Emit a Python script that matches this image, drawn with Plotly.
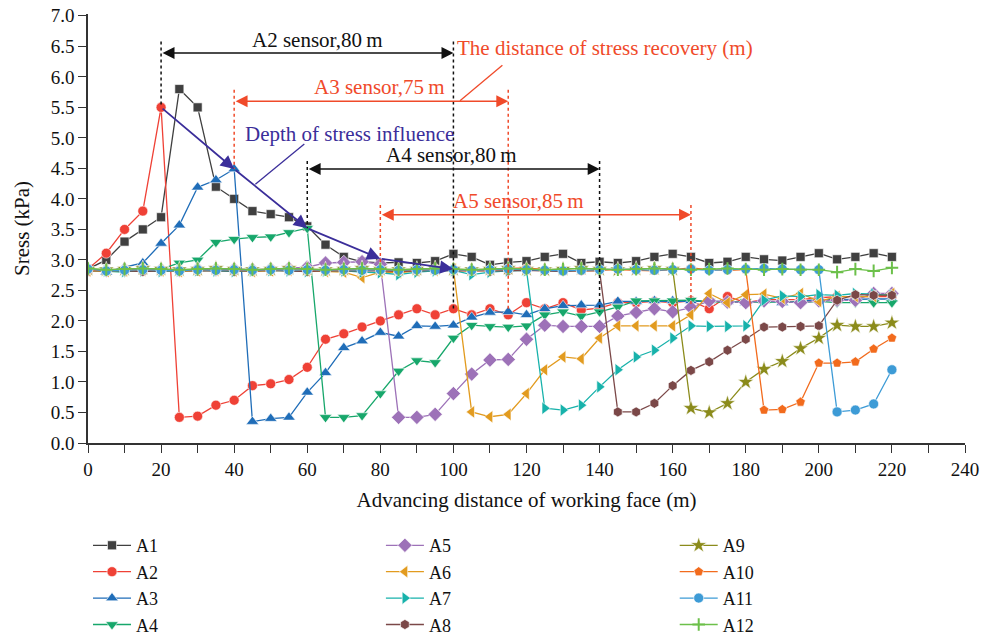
import plotly.graph_objects as go

# ---------------- data ----------------
distance = [0, 5, 10, 15, 20, 25, 30, 35, 40, 45, 50, 55, 60, 65, 70, 75, 80, 85, 90, 95,
            100, 105, 110, 115, 120, 125, 130, 135, 140, 145, 150, 155, 160, 165, 170, 175,
            180, 185, 190, 195, 200, 205, 210, 215, 220]

A1 = [2.85, 3.0, 3.3, 3.5, 3.7, 5.8, 5.5, 4.2, 4.0, 3.8, 3.75, 3.7, 3.55, 3.25, 3.05,
      2.97, 2.95, 2.96, 2.95, 2.98, 3.1, 3.05, 2.92, 2.96, 2.98, 3.05, 3.1, 2.95, 2.97,
      2.95, 2.98, 3.05, 3.1, 3.05, 2.95, 2.97, 3.05, 3.01, 2.99, 3.05, 3.11, 3.01, 3.05,
      3.11, 3.05]
A2 = [2.85, 3.11, 3.5, 3.8, 5.5, 0.42, 0.44, 0.62, 0.7, 0.94, 0.97, 1.04, 1.24, 1.7, 1.79,
      1.9, 2.0, 2.1, 2.2, 2.1, 2.2, 2.1, 2.2, 2.1, 2.3, 2.2, 2.3, 2.18, 2.21, 2.3, 2.3,
      2.32, 2.3, 2.33, 2.2, 2.4, 2.3, 2.35, 2.35, 2.35, 2.38, 2.4, 2.4, 2.4, 2.4]
A3 = [2.87, 2.8, 2.88, 2.95, 3.27, 3.57, 4.19, 4.31, 4.49, 0.35, 0.4, 0.42, 0.83, 1.15,
      1.56, 1.67, 1.81, 1.75, 1.92, 1.91, 1.93, 2.06, 2.14, 2.15, 2.1, 2.2, 2.25, 2.26,
      2.26, 2.32, 2.32, 2.33, 2.33, 2.33, 2.33, 2.32, 2.3, 2.33, 2.3, 2.33, 2.35, 2.35,
      2.36, 2.36, 2.36]
A4 = [2.83, 2.82, 2.8, 2.85, 2.85, 2.95, 3.0, 3.29, 3.34, 3.37, 3.38, 3.45, 3.52, 0.42,
      0.42, 0.45, 0.81, 1.18, 1.35, 1.32, 1.72, 1.93, 1.91, 1.9, 1.92, 2.1, 2.15, 2.08,
      2.15, 2.23, 2.33, 2.33, 2.33, 2.34, 2.32, 2.3, 2.32, 2.3, 2.32, 2.3, 2.32, 2.3, 2.3,
      2.3, 2.3]
A5 = [2.84, 2.83, 2.84, 2.85, 2.84, 2.83, 2.85, 2.84, 2.85, 2.84, 2.85, 2.86, 2.88, 2.95,
      2.96, 2.97, 2.93, 0.42, 0.42, 0.47, 0.81, 1.13, 1.36, 1.37, 1.7, 1.93, 1.91, 1.91,
      1.91, 2.08, 2.14, 2.2, 2.15, 2.22, 2.33, 2.31, 2.3, 2.33, 2.32, 2.3, 2.33, 2.34,
      2.34, 2.45, 2.45]
A6 = [2.82, 2.81, 2.82, 2.83, 2.82, 2.81, 2.82, 2.83, 2.82, 2.81, 2.82, 2.83, 2.82, 2.81,
      2.8, 2.71, 2.8, 2.79, 2.82, 2.83, 2.85, 0.51, 0.43, 0.47, 0.81, 1.2, 1.41, 1.38,
      1.72, 1.92, 1.92, 1.92, 1.92, 2.1, 2.45, 2.3, 2.43, 2.44, 2.37, 2.45, 2.32, 2.4,
      2.4, 2.4, 2.45]
A7 = [2.83, 2.82, 2.81, 2.82, 2.81, 2.82, 2.83, 2.82, 2.81, 2.82, 2.83, 2.82, 2.81, 2.82,
      2.82, 2.8, 2.79, 2.76, 2.8, 2.82, 2.83, 2.76, 2.8, 2.82, 2.83, 0.57, 0.54, 0.62,
      0.92, 1.2, 1.41, 1.52, 1.72, 1.92, 1.91, 1.91, 1.92, 2.34, 2.41, 2.4, 2.43, 2.42,
      2.45, 2.44, 2.42]
A8 = [2.82, 2.83, 2.82, 2.81, 2.82, 2.83, 2.82, 2.82, 2.81, 2.82, 2.83, 2.82, 2.81, 2.82,
      2.82, 2.83, 2.82, 2.81, 2.82, 2.83, 2.82, 2.82, 2.81, 2.82, 2.83, 2.82, 2.81, 2.82,
      2.82, 0.51, 0.51, 0.65, 0.94, 1.19, 1.33, 1.52, 1.7, 1.9, 1.9, 1.91, 1.92, 2.34,
      2.43, 2.42, 2.42]
A9 = [2.85, 2.84, 2.85, 2.86, 2.85, 2.84, 2.85, 2.86, 2.85, 2.84, 2.85, 2.86, 2.85, 2.84,
      2.85, 2.86, 2.85, 2.84, 2.85, 2.86, 2.85, 2.84, 2.85, 2.86, 2.85, 2.84, 2.85, 2.86,
      2.85, 2.84, 2.85, 2.86, 2.85, 0.57, 0.5, 0.65, 1.0, 1.21, 1.34, 1.55, 1.72, 1.93,
      1.91, 1.91, 1.97]
A10 = [2.83, 2.82, 2.83, 2.84, 2.83, 2.82, 2.83, 2.84, 2.83, 2.82, 2.83, 2.84, 2.83, 2.82,
       2.83, 2.84, 2.83, 2.82, 2.83, 2.84, 2.83, 2.82, 2.83, 2.86, 2.87, 2.84, 2.83, 2.82,
       2.83, 2.84, 2.83, 2.82, 2.84, 2.87, 2.84, 2.83, 2.84, 0.54, 0.55, 0.67, 1.31, 1.31,
       1.33, 1.54, 1.72]
A11 = [2.85, 2.82, 2.83, 2.84, 2.83, 2.82, 2.84, 2.83, 2.84, 2.83, 2.84, 2.83, 2.84, 2.83,
       2.84, 2.83, 2.84, 2.83, 2.84, 2.83, 2.84, 2.83, 2.84, 2.85, 2.84, 2.83, 2.82, 2.83,
       2.84, 2.85, 2.84, 2.83, 2.84, 2.85, 2.83, 2.84, 2.85, 2.86, 2.85, 2.84, 2.84, 0.51,
       0.54, 0.64, 1.2]
A12 = [2.86, 2.84, 2.85, 2.86, 2.85, 2.84, 2.85, 2.86, 2.85, 2.84, 2.85, 2.86, 2.85, 2.84,
       2.85, 2.86, 2.85, 2.84, 2.85, 2.86, 2.85, 2.84, 2.85, 2.86, 2.85, 2.84, 2.85, 2.86,
       2.85, 2.84, 2.85, 2.86, 2.85, 2.84, 2.85, 2.86, 2.85, 2.84, 2.85, 2.84, 2.84, 2.8,
       2.85, 2.82, 2.87]

series_names = ["A1", "A2", "A3", "A4", "A5", "A6", "A7", "A8", "A9", "A10", "A11", "A12"]
series_values = [A1, A2, A3, A4, A5, A6, A7, A8, A9, A10, A11, A12]

x_tick_values = [0, 20, 40, 60, 80, 100, 120, 140, 160, 180, 200, 220, 240]
y_tick_values = [0.0, 0.5, 1.0, 1.5, 2.0, 2.5, 3.0, 3.5, 4.0, 4.5, 5.0, 5.5, 6.0, 6.5, 7.0]

# ---------------- styles ----------------
colors = ["#404040", "#ef4136", "#1f6db8", "#17a76b", "#9d72b8", "#e29b1f",
          "#17b2ab", "#7b4848", "#8b8b1b", "#f26b1d", "#3d9bd6", "#6cc04a"]
symbols = ["square", "circle", "triangle-up", "triangle-down", "diamond", "triangle-left",
           "triangle-right", "hexagon", "star", "pentagon", "circle", "cross-thin"]
sizes = [9, 10, 11, 11, 11, 11, 11, 10, 12, 10, 10, 9]
legend_ids = ["legend"] * 4 + ["legend2"] * 4 + ["legend3"] * 4

FONT = "Liberation Serif"

fig = go.Figure()
for i, (name, vals) in enumerate(zip(series_names, series_values)):
    if symbols[i] == "cross-thin":
        mline = dict(color=colors[i], width=2)
    else:
        mline = dict(color="white", width=0.6)
    fig.add_trace(go.Scatter(
        x=distance, y=vals, name=name, mode="lines+markers",
        line=dict(color=colors[i], width=1.3),
        marker=dict(symbol=symbols[i], size=sizes[i], color=colors[i], line=mline),
        legend=legend_ids[i], legendgroup=name,
    ))

# ---------------- annotations ----------------
BLACK = "#111111"
RED = "#f04a2a"
BLUE = "#3b2e9a"

shapes = []
def vdash(x, y0, y1, color):
    shapes.append(dict(type="line", xref="x", yref="y", x0=x, x1=x, y0=y0, y1=y1,
                       line=dict(color=color, width=1.5, dash="dot")))

vdash(20, 6.58, A2[4], BLACK)
vdash(100, 6.58, A2[20], BLACK)
vdash(40, 5.79, A3[8], RED)
vdash(115, 5.79, A3[23], RED)
vdash(60, 4.62, A4[12], BLACK)
vdash(140, 4.62, A4[28], BLACK)
vdash(80, 3.9, A5[16], RED)
vdash(165, 3.9, A5[33], RED)

# leader lines
shapes.append(dict(type="line", xref="x", yref="y", x0=45.8, y0=4.24, x1=59.2, y1=4.9,
                   line=dict(color=BLUE, width=1.3)))
shapes.append(dict(type="line", xref="x", yref="y", x0=101.8, y0=5.61, x1=113.4, y1=6.19,
                   line=dict(color=RED, width=1.3)))

annotations = []
def harrow(x0, x1, y, color):
    annotations.append(dict(x=x1, y=y, ax=x0, ay=y, xref="x", yref="y", axref="x", ayref="y",
                            text="", showarrow=True, arrowhead=2, arrowsize=1.7,
                            arrowwidth=1.4, arrowcolor=color, arrowside="end+start",
                            startarrowhead=2, startarrowsize=1.7, standoff=0, startstandoff=0))

harrow(20, 100, 6.39, BLACK)
harrow(40, 115, 5.6, RED)
harrow(60, 140, 4.49, BLACK)
harrow(80, 165, 3.74, RED)

# depth of stress influence arrows
depth_x = [20, 40, 60, 80, 100]
depth_y = [A2[4], A3[8], A4[12], 3.02, 2.85]
for k in range(len(depth_x) - 1):
    annotations.append(dict(x=depth_x[k + 1], y=depth_y[k + 1], ax=depth_x[k], ay=depth_y[k],
                            xref="x", yref="y", axref="x", ayref="y", text="",
                            showarrow=True, arrowhead=2, arrowsize=1.5, arrowwidth=1.8,
                            arrowcolor=BLUE, standoff=0))

def label(text, x, y, color):
    annotations.append(dict(x=x, y=y, xref="x", yref="y", text=text, showarrow=False,
                            font=dict(family=FONT, size=21, color=color)))

label("A2 sensor,80\u2009m", 62.7, 6.61, BLACK)
label("A3 sensor,75\u2009m", 79.8, 5.84, RED)
label("Depth of stress influence", 71.5, 5.07, BLUE)
label("A4 sensor,80\u2009m", 99.4, 4.72, BLACK)
label("A5 sensor,85\u2009m", 117.7, 3.97, RED)
label("The distance of stress recovery (m)", 141.6, 6.48, RED)

legend_style = dict(orientation="v", yanchor="top", xanchor="left", bgcolor="rgba(0,0,0,0)",
                    font=dict(family=FONT, size=18, color="#111"), tracegroupgap=0,
                    traceorder="grouped", itemwidth=38)

fig.update_layout(
    width=984, height=637,
    margin=dict(l=88, r=19, t=14, b=194, autoexpand=False),
    paper_bgcolor="white", plot_bgcolor="white",
    font=dict(family=FONT, size=19, color="#111"),
    shapes=shapes, annotations=annotations,
    legend=dict(x=0.0, y=-0.196, **legend_style),
    legend2=dict(x=0.334, y=-0.196, **legend_style),
    legend3=dict(x=0.669, y=-0.196, **legend_style),
    xaxis=dict(range=[0, 240], tickvals=x_tick_values, showgrid=False, zeroline=False,
               showline=True, linecolor="#333", linewidth=1.5, ticks="outside", ticklen=8,
               tickwidth=1.3, tickcolor="#333",
               minor=dict(dtick=10, ticks="outside", ticklen=8, tickwidth=1.3, tickcolor="#333"),
               tickfont=dict(family=FONT, size=19),
               title=dict(text="Advancing distance of working face (m)",
                          font=dict(family=FONT, size=21), standoff=14)),
    yaxis=dict(range=[0, 7.03], tickvals=y_tick_values, tickformat=".1f", showgrid=False,
               zeroline=False, showline=True, linecolor="#333", linewidth=1.5,
               ticks="outside", ticklen=8, tickwidth=1.3, tickcolor="#333",
               tickfont=dict(family=FONT, size=19),
               title=dict(text="Sress (kPa)", font=dict(family=FONT, size=21), standoff=15)),
)

fig.write_html("out.html")
